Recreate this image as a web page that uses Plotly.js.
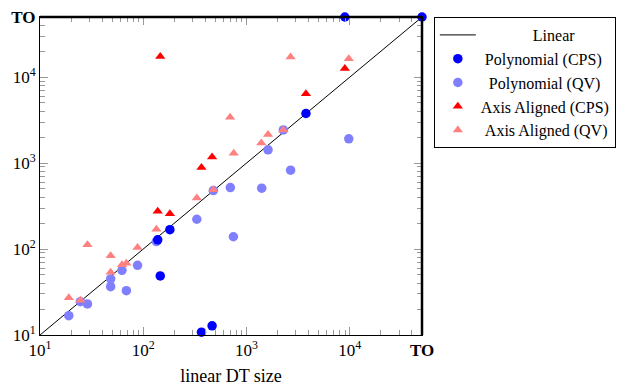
<!DOCTYPE html>
<html>
<head>
<meta charset="utf-8">
<script src="https://cdn.plot.ly/plotly-3.0.1.min.js"></script>
<style>html,body{margin:0;padding:0;background:#fff;}#chart{width:630px;height:388px;}</style>
</head>
<body>
<div id="chart"></div>
<script>
// Timeout value ("TO") used as the top of both axes
const TO = 50000;

// Diagonal reference line
const linearX = [10, TO];
const linearY = [10, TO];

// Polynomial (CPS)
const polyCpsX = [138, 146, 181, 366, 464, 3760, 8950, TO];
const polyCpsY = [128, 48.6, 168, 10.8, 12.8, 3770, TO, TO];

// Polynomial (QV)
const polyQvX = [19, 24.6, 28.8, 48.3, 48.3, 62.2, 68.6, 88, 134, 330, 477, 697, 746, 1403, 1615, 2270, 2670, 9770];
const polyQvY = [16.8, 24.4, 23, 44.9, 36.5, 56.6, 32.8, 64.7, 122, 222, 479, 519, 139, 511, 1426, 2430, 826, 1915];

// Axis Aligned (CPS)
const axisCpsX = [138, 146, 181, 366, 464, 3760, 8950];
const axisCpsY = [276, 17400, 258, 887, 1180, 6400, 12600];

// Axis Aligned (QV)
const axisQvX = [19, 24.6, 28.8, 48.3, 48.3, 62.2, 68.6, 88, 134, 330, 477, 693, 752, 1390, 1615, 2270, 2670, 9770];
const axisQvY = [27.2, 25.4, 112, 83.8, 53.7, 65.8, 68.4, 104, 170, 393, 488, 3420, 1303, 1706, 2150, 2430, 17100, 16300];

// Axis ticks
const tickVals = [10, 100, 1000, 10000, TO];
const xTickText = ['10<sup>1</sup>', '10<sup>2</sup>', '10<sup>3</sup>', '10<sup>4</sup>', '<b>TO</b>'];
const yTickText = ['10<sup>1</sup>', '10<sup>2</sup>', '10<sup>3</sup>', '10<sup>4</sup>', '<b>TO</b>'];
const minorVals = [];
for (const d of [10, 100, 1000, 10000]) for (let k = 2; k <= 9; k++) if (d * k < TO) minorVals.push(d * k);

const names = ['Linear', 'Polynomial (CPS)', 'Polynomial (QV)', 'Axis Aligned (CPS)', 'Axis Aligned (QV)'];
// leading non-breaking spaces to centre legend labels as in the reference
const pad = [13, 1, 2, 0, 1];
const label = i => '\u00a0'.repeat(pad[i]) + names[i];

const FONT = 'Liberation Serif, serif';

const traces = [
  {x: linearX, y: linearY, mode: 'lines', name: label(0), line: {color: '#000', width: 1}, legendrank: 1},
  {x: polyQvX, y: polyQvY, mode: 'markers', name: label(2), marker: {symbol: 'circle', size: 9.5, color: '#8080ff'}, legendrank: 3},
  {x: polyCpsX, y: polyCpsY, mode: 'markers', name: label(1), marker: {symbol: 'circle', size: 9.5, color: '#0000ff'}, legendrank: 2, cliponaxis: false},
  {x: axisQvX, y: axisQvY, mode: 'markers', name: label(4), marker: {symbol: 'triangle-up', size: 9, color: '#ff8080'}, legendrank: 5},
  {x: axisCpsX, y: axisCpsY, mode: 'markers', name: label(3), marker: {symbol: 'triangle-up', size: 9, color: '#ff0000'}, legendrank: 4}
];

const axisCommon = {
  type: 'log',
  range: [1, Math.log10(TO)],
  tickmode: 'array',
  tickvals: tickVals,
  ticks: 'inside',
  ticklen: 8,
  tickwidth: 1,
  tickcolor: '#999',
  showline: true,
  linecolor: '#000',
  linewidth: 1,
  mirror: 'allticks',
  showgrid: false,
  zeroline: false,
  tickfont: {family: FONT, size: 17, color: '#000'},
  minor: {tickmode: 'array', tickvals: minorVals, ticks: 'inside', ticklen: 5, tickcolor: '#999', tickwidth: 1, showgrid: false}
};

const layout = {
  width: 630, height: 388,
  margin: {l: 40, r: 208, t: 17, b: 53},
  paper_bgcolor: '#fff', plot_bgcolor: '#fff',
  font: {family: FONT, size: 16, color: '#000'},
  showlegend: true,
  xaxis: Object.assign({}, axisCommon, {ticktext: xTickText, title: {text: 'linear DT size', font: {family: FONT, size: 18}, standoff: 9}}),
  yaxis: Object.assign({}, axisCommon, {ticktext: yTickText}),
  legend: {
    x: 1.031, y: 1, xanchor: 'left', yanchor: 'top',
    bordercolor: '#000', borderwidth: 1, bgcolor: '#fff',
    font: {family: FONT, size: 16, color: '#000'},
    tracegroupgap: 0,
    itemwidth: 36
  },
  shapes: [
    {type: 'line', xref: 'paper', yref: 'paper', x0: 0, x1: 1, y0: 1, y1: 1, line: {color: '#000', width: 2.5}},
    {type: 'line', xref: 'paper', yref: 'paper', x0: 1, x1: 1, y0: 0, y1: 1, line: {color: '#000', width: 2.5}}
  ]
};

Plotly.newPlot('chart', traces, layout, {displayModeBar: false, staticPlot: true});
</script>
</body>
</html>
